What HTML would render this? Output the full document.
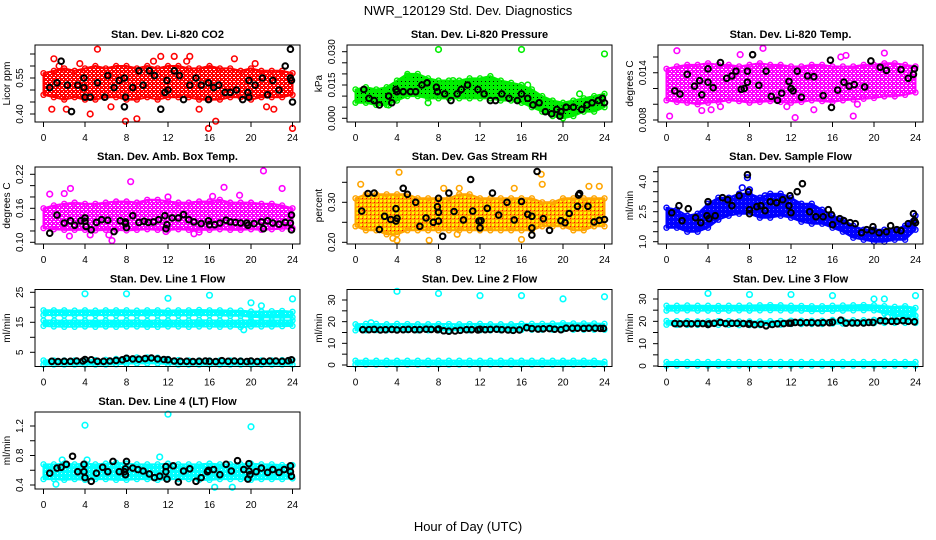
<!DOCTYPE html>
<html><head><meta charset="utf-8"><style>
body{margin:0;background:#fff}
svg{display:block;font-family:"Liberation Sans",Arial,sans-serif}
</style></head><body>
<svg id="c" width="936" height="540" viewBox="0 0 936 540">
<defs>
<pattern id="pat-red" width="4" height="4" patternUnits="userSpaceOnUse"><rect width="4" height="4" fill="#ff0000"/><rect x="1" y="1" width="2" height="1" fill="#fff"/><rect x="3" y="3" width="1" height="1" fill="#fff"/></pattern>
<pattern id="pat-green" width="4" height="4" patternUnits="userSpaceOnUse"><rect width="4" height="4" fill="#00ee00"/><rect x="1" y="1" width="1" height="1" fill="#000"/></pattern>
<pattern id="pat-mag" width="4" height="4" patternUnits="userSpaceOnUse"><rect width="4" height="4" fill="#ff00ff"/><rect x="1" y="1" width="2" height="1" fill="#fff"/><rect x="3" y="3" width="1" height="1" fill="#fff"/></pattern>
<pattern id="pat-rh" width="4" height="4" patternUnits="userSpaceOnUse"><rect width="4" height="4" fill="#ffa500"/><rect x="0" y="0" width="2" height="2" fill="#ffff00"/><rect x="2" y="2" width="1" height="1" fill="#ff0000"/></pattern>
<pattern id="pat-blue" width="4" height="4" patternUnits="userSpaceOnUse"><rect width="4" height="4" fill="#0000ff"/><rect x="1" y="1" width="1" height="1" fill="#6666ff"/></pattern>
<pattern id="pat-cyan" width="4" height="4" patternUnits="userSpaceOnUse"><rect width="4" height="4" fill="#00ffff"/><rect x="1" y="1" width="1" height="1" fill="#bbffff"/></pattern>
</defs>
<text x="468" y="15" text-anchor="middle" font-size="13">NWR_120129  Std. Dev. Diagnostics</text>
<text x="468" y="531" text-anchor="middle" font-size="13">Hour of Day (UTC)</text>
</svg>
<script>
const H=[0,1,2,3,4,5,6,7,8,9,10,11,12,13,14,15,16,17,18,19,20,21,22,23,24];
const xTicks=[0,4,8,12,16,20,24];
const xTickLabels=["0","4","8","12","16","20","24"];

// P1 CO2
const p1Lo=[0.48,0.47,0.46,0.47,0.46,0.46,0.47,0.47,0.46,0.46,0.47,0.46,0.47,0.47,0.47,0.46,0.46,0.46,0.47,0.47,0.46,0.47,0.47,0.47,0.48];
const p1Hi=[0.57,0.58,0.59,0.58,0.59,0.60,0.59,0.60,0.60,0.59,0.60,0.59,0.60,0.60,0.59,0.59,0.60,0.59,0.59,0.58,0.59,0.58,0.58,0.58,0.57];
const p1Ox=[0.8,1.0,2.2,5.2,9.0,10.6,12.6,14.1,15.0,15.9,16.6,18.4,20.4,22.2,24.0,4.5,7.9,6.5,3.5,11.3,21.5,13.8,1.5];
const p1Oy=[0.42,0.63,0.42,0.67,0.38,0.62,0.64,0.64,0.42,0.34,0.37,0.63,0.61,0.42,0.34,0.40,0.37,0.43,0.61,0.64,0.43,0.62,0.60];
const p1Bx=[0.6,1.3,1.7,2.3,2.7,3.3,3.9,3.9,4.0,4.5,5.2,5.9,6.2,6.8,7.3,7.8,7.9,7.8,8.6,9.2,9.6,10.2,10.7,11.3,11.7,11.9,12.0,12.6,13.1,13.5,14.1,14.7,15.2,15.9,15.9,16.4,16.9,17.5,18.0,18.6,19.2,19.7,19.8,19.8,20.4,21.1,21.6,22.1,22.7,23.3,23.8,23.8,23.9,24.0];
const p1By=[0.51,0.53,0.62,0.52,0.41,0.52,0.51,0.55,0.47,0.47,0.53,0.47,0.56,0.51,0.54,0.55,0.47,0.43,0.51,0.58,0.52,0.58,0.56,0.42,0.49,0.54,0.50,0.58,0.56,0.46,0.52,0.55,0.52,0.53,0.46,0.51,0.52,0.49,0.49,0.50,0.46,0.49,0.54,0.47,0.52,0.55,0.48,0.54,0.50,0.60,0.67,0.55,0.54,0.45];
// P2 Pressure
const p2Lo=[0.007,0.007,0.006,0.006,0.008,0.010,0.010,0.009,0.009,0.009,0.009,0.009,0.009,0.009,0.008,0.008,0.007,0.005,0.003,0.001,0.000,0.001,0.003,0.003,0.005];
const p2Hi=[0.013,0.014,0.013,0.014,0.017,0.020,0.020,0.018,0.017,0.017,0.017,0.018,0.018,0.019,0.017,0.016,0.015,0.013,0.010,0.008,0.007,0.008,0.009,0.010,0.011];
const p2Ox=[8.0,16.0,24.0,5.0,7.0,16.6,21.6,3.2,9.4];
const p2Oy=[0.031,0.031,0.029,0.019,0.007,0.015,0.011,0.006,0.017];
const p2Bx=[0.8,1.3,1.8,2.3,3.2,3.5,3.9,4.0,4.6,5.3,5.8,6.4,6.9,7.8,7.9,8.6,9.2,9.8,10.2,10.8,11.8,12.4,13.0,13.5,14.1,14.8,15.6,16.0,16.6,17.1,17.7,18.3,18.9,19.4,19.7,19.8,20.3,21.0,21.8,22.3,22.8,23.4,23.8,24.0];
const p2By=[0.013,0.009,0.008,0.006,0.010,0.007,0.013,0.012,0.012,0.012,0.012,0.015,0.016,0.014,0.012,0.011,0.008,0.011,0.013,0.015,0.013,0.011,0.008,0.008,0.011,0.009,0.008,0.011,0.009,0.006,0.007,0.003,0.002,0.004,0.001,0.003,0.005,0.005,0.004,0.006,0.007,0.008,0.009,0.007];
// P3 Temp
const p3Lo=[0.0105,0.0103,0.0102,0.0100,0.0102,0.0103,0.0105,0.0104,0.0102,0.0103,0.0104,0.0103,0.0102,0.0103,0.0105,0.0104,0.0103,0.0105,0.0106,0.0107,0.0108,0.0110,0.0110,0.0112,0.0115];
const p3Hi=[0.0145,0.0148,0.0150,0.0150,0.0152,0.0150,0.0150,0.0148,0.0150,0.0152,0.0150,0.0150,0.0148,0.0148,0.0150,0.0150,0.0148,0.0148,0.0148,0.0150,0.0150,0.0152,0.0152,0.0150,0.0148];
const p3Ox=[1.0,0.3,4.3,5.2,7.1,9.3,11.6,12.4,14.2,16.8,17.3,18.0,21.0,18.4,3.4];
const p3Oy=[0.0168,0.0085,0.0093,0.0097,0.0163,0.0171,0.0097,0.0083,0.0093,0.0160,0.0162,0.0085,0.0165,0.0100,0.0092];
const p3Bx=[0.8,1.3,2.0,2.7,3.2,3.4,4.0,4.0,4.5,5.2,5.8,6.3,6.7,7.2,7.5,7.8,7.8,8.3,8.9,9.6,10.1,10.7,11.1,11.8,12.0,12.2,12.6,13.0,13.6,14.2,15.1,15.8,15.9,16.5,17.1,17.6,18.1,19.1,19.7,20.6,21.2,22.6,23.3,23.8,23.9];
const p3By=[0.0117,0.0113,0.0138,0.0123,0.0130,0.0112,0.0145,0.0128,0.0121,0.0153,0.0133,0.0136,0.0142,0.0119,0.0120,0.0128,0.0142,0.0163,0.0124,0.0142,0.0110,0.0105,0.0114,0.0129,0.0120,0.0117,0.0142,0.0109,0.0136,0.0135,0.0111,0.0156,0.0096,0.0118,0.0128,0.0123,0.0125,0.0122,0.0155,0.0147,0.0143,0.0144,0.0133,0.0138,0.0145];
// P4 Amb box temp
const p4Lo=[0.125,0.123,0.122,0.122,0.122,0.121,0.122,0.122,0.121,0.122,0.123,0.122,0.122,0.123,0.122,0.122,0.122,0.123,0.122,0.122,0.123,0.122,0.123,0.124,0.125];
const p4Hi=[0.160,0.165,0.168,0.170,0.168,0.168,0.170,0.172,0.172,0.170,0.175,0.175,0.172,0.170,0.170,0.172,0.172,0.175,0.170,0.170,0.170,0.168,0.168,0.165,0.160];
const p4Ox=[0.6,2.0,2.6,2.5,4.5,6.6,8.4,11.8,14.5,16.3,17.4,18.9,21.2,23.0,6.3,15.0,12.0];
const p4Oy=[0.185,0.186,0.195,0.111,0.113,0.103,0.207,0.119,0.115,0.181,0.197,0.183,0.226,0.195,0.113,0.118,0.180];
const p4Bx=[0.6,1.3,2.0,2.6,3.0,3.6,4.0,4.0,4.1,4.6,5.1,5.6,6.2,6.8,7.4,7.9,7.9,8.0,8.6,9.2,9.7,10.1,10.6,11.1,11.7,11.9,11.8,12.4,13.0,13.5,14.0,14.5,15.2,15.9,16.0,16.5,17.0,17.6,18.0,18.5,19.0,19.6,19.7,20.3,21.0,21.2,21.6,22.1,22.7,23.3,23.8,23.9,23.9];
const p4By=[0.116,0.148,0.134,0.138,0.130,0.138,0.137,0.143,0.128,0.122,0.135,0.140,0.139,0.119,0.138,0.136,0.133,0.126,0.147,0.135,0.137,0.135,0.136,0.140,0.147,0.131,0.124,0.143,0.143,0.149,0.140,0.136,0.133,0.138,0.131,0.131,0.134,0.139,0.136,0.135,0.134,0.134,0.130,0.133,0.136,0.124,0.138,0.134,0.132,0.135,0.134,0.148,0.122];
// P5 RH
const p5Lo=[0.24,0.23,0.23,0.22,0.22,0.23,0.23,0.23,0.23,0.23,0.23,0.23,0.23,0.23,0.23,0.23,0.23,0.23,0.24,0.24,0.24,0.23,0.23,0.24,0.24];
const p5Hi=[0.31,0.32,0.32,0.32,0.32,0.32,0.31,0.31,0.31,0.31,0.32,0.32,0.31,0.31,0.31,0.31,0.31,0.31,0.30,0.30,0.31,0.31,0.31,0.31,0.31];
const p5Ox=[0.5,4.2,3.6,4.0,7.1,8.5,10.0,15.3,17.9,18.0,22.5,16.0,23.5,9.8];
const p5Oy=[0.345,0.375,0.21,0.205,0.205,0.335,0.335,0.335,0.37,0.345,0.34,0.207,0.34,0.22];
const p5Bx=[0.6,1.2,1.8,2.3,2.8,3.4,3.9,3.9,4.0,4.6,5.0,5.8,6.2,6.8,7.5,7.9,8.0,8.0,8.0,8.4,9.0,9.5,10.4,11.1,11.3,11.9,12.1,12.0,12.7,13.2,13.8,14.6,15.3,16.0,16.6,17.0,17.0,17.0,17.5,18.1,18.7,19.8,20.2,20.6,21.4,21.5,21.6,22.4,23.0,23.5,24.0];
const p5By=[0.278,0.322,0.323,0.232,0.265,0.257,0.284,0.253,0.26,0.335,0.32,0.30,0.24,0.261,0.25,0.289,0.275,0.253,0.31,0.215,0.323,0.277,0.256,0.357,0.278,0.253,0.254,0.236,0.285,0.323,0.268,0.30,0.256,0.302,0.27,0.265,0.236,0.218,0.377,0.259,0.23,0.254,0.249,0.272,0.29,0.318,0.322,0.29,0.251,0.255,0.257];
// P6 Sample flow
const p6Lo=[1.7,1.7,1.5,1.5,1.7,2.1,2.3,2.4,2.4,2.2,2.2,2.3,2.2,2.0,1.9,1.9,1.7,1.5,1.2,1.1,1.0,1.0,1.1,1.1,1.6];
const p6Hi=[2.7,2.6,2.3,2.4,2.9,3.2,3.2,3.4,3.4,3.2,3.4,3.4,3.2,2.9,2.9,2.6,2.3,2.1,1.8,1.6,1.6,1.6,1.6,1.8,2.3];
const p6Ox=[7.8,7.3,8.0,9.5];
const p6Oy=[4.2,3.7,3.6,3.3];
const p6Bx=[0.5,1.2,1.5,2.1,2.8,3.3,3.9,4.0,4.1,4.7,5.4,5.9,6.3,7.0,7.8,7.9,8.0,8.0,8.7,9.1,9.5,10.0,10.6,11.2,11.8,11.9,12.0,12.6,13.1,13.8,14.4,15.1,15.6,15.9,16.0,16.7,17.1,17.7,18.2,18.8,19.3,19.8,19.9,20.5,21.2,21.6,22.2,22.6,23.3,23.8,23.9,24.0];
const p6By=[2.45,2.8,2.05,2.65,2.2,1.95,2.3,3.0,2.15,2.3,3.2,3.1,2.8,3.3,4.35,3.5,2.6,2.4,2.75,2.8,2.55,3.0,2.95,3.1,2.8,3.3,2.45,3.5,3.9,2.5,2.25,2.25,2.6,2.35,1.85,2.15,2.05,1.95,1.9,1.45,1.6,1.55,1.75,1.45,1.5,1.8,1.6,1.55,1.9,2.4,2.05,1.95];
// P7 Line 1
const p7ALo=[17.4,17.4,17.3,17.4,17.3,17.4,17.4,17.3,17.4,17.3,17.4,17.3,17.4,17.3,17.3,17.4,17.4,17.3,17.2,17.2,16.8,16.7,16.6,16.6,16.7];
const p7AHi=[19.0,19.0,19.0,18.9,19.0,18.9,19.0,19.0,19.0,18.9,19.0,19.0,18.9,19.0,19.0,19.1,19.0,19.0,18.9,18.9,18.6,18.6,18.7,18.8,18.5];
const p7BLo=[13.8,13.6,13.5,13.5,13.6,13.5,13.6,13.5,13.6,13.6,13.5,13.5,13.6,13.6,13.5,13.6,13.6,13.5,13.6,13.4,13.6,13.6,13.6,13.7,13.8];
const p7BHi=[15.6,15.6,15.5,15.6,15.6,15.5,15.6,15.5,15.6,15.6,15.5,15.6,15.6,15.5,15.6,15.7,15.6,15.6,15.5,15.6,15.6,15.5,15.6,15.6,15.6];
const p7CLo=[0.9,0.9,0.9,0.9,0.9,0.9,0.9,1.0,1.2,1.3,1.3,1.3,1.1,0.9,0.9,0.9,0.9,0.9,0.9,0.9,0.9,0.9,0.9,0.9,0.9];
const p7CHi=[2.3,2.3,2.3,2.3,2.4,2.4,2.5,2.8,3.2,3.3,3.3,3.2,2.8,2.4,2.3,2.3,2.3,2.3,2.3,2.3,2.3,2.3,2.3,2.4,2.5];
const p7Ox=[4,8,12,16,20,21,24,19.3];
const p7Oy=[24.5,24.5,23,24,21.5,20.5,22.8,12.5];
const p7Bx=[0.8,1.4,2,2.6,3.2,3.8,4.0,4.6,5.2,5.8,6.4,7.0,7.6,8.0,8.6,9.2,9.8,10.4,11.0,11.6,12.0,12.6,13.2,13.8,14.4,15.0,15.6,16.0,16.6,17.2,17.8,18.4,19.0,19.6,20.0,20.6,21.2,21.8,22.4,23.0,23.6,23.9];
const p7By=[2.0,1.9,2.0,2.0,2.1,2.1,2.6,2.5,2.0,2.0,2.1,2.3,2.5,3.0,2.8,2.7,2.9,3.1,2.8,2.6,2.5,2.1,2.0,2.0,1.9,2.0,2.1,2.0,1.9,2.2,2.0,2.1,2.0,1.9,2.1,1.9,2.0,2.1,2.1,2.0,2.2,2.5];
// P8 Line 2
const p8ALo=[16.0,16.0,16.1,16.0,16.0,16.1,16.0,16.0,16.0,16.0,16.1,16.0,16.0,16.0,16.0,16.0,16.2,16.3,16.3,16.3,16.4,16.3,16.3,16.3,16.3];
const p8AHi=[18.8,19.0,19.0,18.8,19.0,18.9,18.8,18.8,18.9,18.9,18.8,18.9,19.0,18.8,18.8,18.8,19.0,19.0,19.0,19.1,19.3,19.2,19.2,19.2,19.0];
const p8BLo=[0.2,0.2,0.2,0.2,0.2,0.2,0.2,0.2,0.2,0.2,0.2,0.2,0.2,0.2,0.2,0.2,0.2,0.2,0.2,0.2,0.2,0.2,0.2,0.2,0.2];
const p8BHi=[2.0,2.0,2.0,2.0,2.0,2.0,2.0,2.0,2.0,2.0,2.0,2.0,2.0,2.0,2.0,2.0,2.0,2.0,2.0,2.0,2.0,2.0,2.0,2.0,1.5];
const p8Ox=[4,8,12,16,20,24,1.5];
const p8Oy=[34,33,32,32,30.5,31.5,19.5];
const p8Bx=[0.7,1.3,1.8,2.4,2.9,3.5,4.0,4.6,5.1,5.7,6.2,6.8,7.3,7.9,8.0,8.5,9.0,9.6,10.1,10.7,11.2,11.8,12.0,12.5,13.0,13.6,14.1,14.7,15.2,15.8,16.5,17.0,17.6,18.1,18.7,19.2,19.8,20.3,20.9,21.4,22.0,22.5,23.1,23.6,23.9];
const p8By=[16.3,16.3,16.4,16.2,16.3,16.4,16.2,16.3,16.4,16.3,16.3,16.5,16.4,16.3,16.6,15.8,15.6,15.7,16.0,16.3,16.3,16.2,16.5,16.3,16.4,16.5,16.3,16.2,16.0,16.2,17.2,16.8,16.6,16.7,16.8,16.5,16.3,17.0,17.0,17.0,16.9,17.0,17.0,16.9,16.9];
// P9 Line 3
const p9ALo=[24.8,24.8,24.9,24.8,24.8,24.7,24.8,24.9,24.8,24.9,25.0,24.9,24.8,24.8,24.6,24.6,24.7,24.8,24.9,25.0,24.9,23.5,22.5,22.0,22.5];
const p9AHi=[27.0,27.0,27.1,27.0,27.0,26.9,27.0,27.0,27.1,27.2,27.3,27.2,27.0,26.9,26.8,26.8,27.0,27.1,27.2,27.3,27.2,26.8,26.5,26.8,26.0];
const p9BLo=[18.5,18.4,18.4,18.4,18.3,18.4,18.4,18.3,18.3,18.3,18.4,18.5,18.8,18.8,18.8,18.8,19.0,19.0,19.0,19.0,19.2,19.3,19.3,19.3,19.3];
const p9BHi=[20.2,20.1,20.1,20.0,20.0,20.1,20.1,20.0,20.0,20.0,20.1,20.2,20.3,20.3,20.3,20.3,20.6,20.5,20.5,20.5,20.7,20.8,20.8,20.8,20.8];
const p9CLo=[0.2,0.2,0.2,0.2,0.2,0.2,0.2,0.2,0.2,0.2,0.2,0.2,0.2,0.2,0.2,0.2,0.2,0.2,0.2,0.2,0.2,0.2,0.2,0.2,0.2];
const p9CHi=[1.8,1.8,1.8,1.8,1.8,1.8,1.8,1.8,1.8,1.8,1.8,1.8,1.8,1.8,1.8,1.8,1.8,1.8,1.8,1.8,1.8,1.8,1.8,1.8,1.8];
const p9Ox=[4,8,12,16,20,21,24,21.3,23.5,22.8];
const p9Oy=[32.5,32,32,31.5,30,30,31.5,22,23,22.5];
const p9Bx=[0.8,1.3,1.9,2.4,3.0,3.5,4.0,4.1,4.6,5.2,5.7,6.3,6.8,7.4,7.9,8.0,8.5,9.1,9.6,10.2,10.7,11.3,11.8,12.0,12.4,12.9,13.5,14.0,14.6,15.1,15.7,16.0,16.8,17.3,17.9,18.4,19.0,19.5,19.9,20.6,21.1,21.7,22.2,22.8,23.3,23.9];
const p9By=[19.0,18.9,19.0,18.9,19.0,19.0,18.6,18.9,19.1,19.5,19.0,19.1,19.1,19.0,18.7,19.0,18.5,18.7,18.0,18.6,18.9,19.0,19.2,19.2,19.5,19.4,19.4,19.4,19.3,19.4,19.4,19.6,20.5,19.2,19.3,19.3,19.3,19.5,19.5,20.3,20.1,20.0,20.0,20.3,20.0,19.8];
// P10 Line 4
const p10Lo=[0.48,0.48,0.47,0.48,0.47,0.48,0.48,0.47,0.47,0.48,0.48,0.47,0.48,0.48,0.48,0.47,0.47,0.48,0.48,0.48,0.47,0.48,0.48,0.48,0.49];
const p10Hi=[0.68,0.68,0.69,0.68,0.69,0.68,0.69,0.70,0.69,0.68,0.68,0.68,0.69,0.68,0.68,0.68,0.69,0.68,0.68,0.68,0.69,0.68,0.68,0.67,0.67];
const p10Ox=[4,12,20,1.2,16.5,18.2,11.2,1.8,4.2];
const p10Oy=[1.21,1.36,1.19,0.41,0.37,0.37,0.78,0.74,0.74];
const p10Bx=[0.6,1.3,1.7,2.2,2.8,3.3,3.9,3.9,4.0,4.6,5.1,5.7,6.2,6.7,7.3,7.8,7.9,7.9,8.0,8.6,9.1,9.6,10.2,10.7,11.2,11.8,11.8,11.9,12.5,13.0,13.5,14.1,14.7,15.2,15.8,15.9,16.4,17.0,17.6,18.1,18.7,19.3,19.8,19.8,19.7,19.9,20.5,21.0,21.6,22.1,22.7,23.2,23.8,23.8,23.9];
const p10By=[0.56,0.63,0.64,0.68,0.79,0.58,0.58,0.68,0.50,0.45,0.56,0.64,0.58,0.72,0.58,0.58,0.54,0.62,0.72,0.63,0.61,0.59,0.55,0.50,0.52,0.65,0.58,0.48,0.66,0.44,0.59,0.62,0.45,0.50,0.58,0.60,0.61,0.54,0.68,0.59,0.73,0.61,0.59,0.69,0.48,0.54,0.58,0.63,0.57,0.61,0.57,0.61,0.66,0.58,0.52];

const NS="http://www.w3.org/2000/svg";
const svg=document.getElementById('c');
function mk(tag,attrs,parent){const e=document.createElementNS(NS,tag);for(const k in attrs)e.setAttribute(k,attrs[k]);(parent||svg).appendChild(e);return e;}

const colL=[35,347,658], rowT=[45,167,289.5,412], BW=265, BH=77;
const panels=[
 {n:'co2',t:'Stan. Dev. Li-820 CO2',c:0,r:0,v0:0.40,p0:114,k:240,yl:'Licor ppm',tk:[0.40,0.45,0.50,0.55,0.60,0.65],tl:["0.40","","","0.55","",""],col:'#ff0000',pat:'pat-red',bands:[[p1Lo,p1Hi]],ox:p1Ox,oy:p1Oy,bx:p1Bx,by:p1By},
 {n:'pressure',t:'Stan. Dev. Li-820 Pressure',c:1,r:0,v0:0,p0:118.3,k:2220,yl:'kPa',tk:[0,0.005,0.010,0.015,0.020,0.025,0.030],tl:["0.000","","","0.015","","","0.030"],col:'#00ee00',pat:'pat-green',bands:[[p2Lo,p2Hi]],ox:p2Ox,oy:p2Oy,bx:p2Bx,by:p2By},
 {n:'temp',t:'Stan. Dev. Li-820 Temp.',c:2,r:0,v0:0.008,p0:120,k:7875,yl:'degrees C',tk:[0.008,0.010,0.012,0.014,0.016],tl:["0.008","","","0.014",""],col:'#ff00ff',pat:'pat-mag',bands:[[p3Lo,p3Hi]],ox:p3Ox,oy:p3Oy,bx:p3Bx,by:p3By},
 {n:'amb-temp',t:'Stan. Dev. Amb. Box Temp.',c:0,r:1,v0:0.10,p0:242.3,k:566.7,yl:'degrees C',tk:[0.10,0.12,0.14,0.16,0.18,0.20,0.22],tl:["0.10","","","0.16","","","0.22"],col:'#ff00ff',pat:'pat-mag',bands:[[p4Lo,p4Hi]],ox:p4Ox,oy:p4Oy,bx:p4Bx,by:p4By},
 {n:'rh',t:'Stan. Dev. Gas Stream RH',c:1,r:1,v0:0.20,p0:242.3,k:400,yl:'percent',tk:[0.20,0.25,0.30,0.35],tl:["0.20","","0.30",""],col:'#ffa500',pat:'pat-rh',bands:[[p5Lo,p5Hi]],ox:p5Ox,oy:p5Oy,bx:p5Bx,by:p5By},
 {n:'sample-flow',t:'Stan. Dev. Sample Flow',c:2,r:1,v0:1.0,p0:241.7,k:20,yl:'ml/min',tk:[1.0,1.5,2.0,2.5,3.0,3.5,4.0,4.5],tl:["1.0","","","2.5","","","4.0",""],col:'#0000ff',pat:'pat-blue',bands:[[p6Lo,p6Hi]],ox:p6Ox,oy:p6Oy,bx:p6Bx,by:p6By},
 {n:'line1',t:'Stan. Dev. Line 1 Flow',c:0,r:2,v0:5,p0:352.3,k:3,yl:'ml/min',tk:[5,10,15,20,25],tl:["5","","15","","25"],col:'#00ffff',pat:'pat-cyan',bands:[[p7ALo,p7AHi],[p7BLo,p7BHi],[p7CLo,p7CHi]],ox:p7Ox,oy:p7Oy,bx:p7Bx,by:p7By},
 {n:'line2',t:'Stan. Dev. Line 2 Flow',c:1,r:2,v0:0,p0:365,k:2.167,yl:'ml/min',tk:[0,5,10,15,20,25,30],tl:["0","","10","","20","","30"],col:'#00ffff',pat:'pat-cyan',bands:[[p8ALo,p8AHi],[p8BLo,p8BHi]],ox:p8Ox,oy:p8Oy,bx:p8Bx,by:p8By},
 {n:'line3',t:'Stan. Dev. Line 3 Flow',c:2,r:2,v0:0,p0:366,k:2.233,yl:'ml/min',tk:[0,5,10,15,20,25,30],tl:["0","","10","","20","","30"],col:'#00ffff',pat:'pat-cyan',bands:[[p9ALo,p9AHi],[p9BLo,p9BHi],[p9CLo,p9CHi]],ox:p9Ox,oy:p9Oy,bx:p9Bx,by:p9By},
 {n:'line4',t:'Stan. Dev. Line 4 (LT) Flow',c:0,r:3,v0:0.4,p0:485,k:73.75,yl:'ml/min',tk:[0.4,0.6,0.8,1.0,1.2],tl:["0.4","","0.8","","1.2"],col:'#00ffff',pat:'pat-cyan',bands:[[p10Lo,p10Hi]],ox:p10Ox,oy:p10Oy,bx:p10Bx,by:p10By}
];

panels.forEach(p=>{
 const L=colL[p.c], T=rowT[p.r], B=T+BH, R=L+BW;
 const X=h=>L+8.5+h*249/24;
 const Y=v=>p.p0-(v-p.v0)*p.k;
 const g=mk('g',{});
 
 
 const tt=mk('text',{x:L+BW/2,y:T-7,'text-anchor':'middle','font-size':'11','font-weight':'bold'},g);
 tt.textContent=p.t;
 
 
 p.bands.forEach((bd,bi)=>{
  const lo=bd[0],hi=bd[1];
  let pts=H.map((h,i)=>X(h)+','+Y(hi[i]));
  pts=pts.concat(H.map((h,i)=>X(h)+','+Y(lo[i])).reverse());
  const poly=mk('polygon',{points:pts.join(' '),fill:'url(#'+p.pat+')',stroke:p.col,'stroke-width':'2','stroke-linejoin':'round'},g);
  
  
  H.forEach((h,i)=>{
   [lo[i],hi[i]].forEach(v=>{
    const c=mk('circle',{cx:X(h),cy:Y(v),r:2.5,fill:'none',stroke:p.col,'stroke-width':'1.4'},g);
    
    
   });
  });
 });
 p.ox.forEach((h,i)=>{
  const c=mk('circle',{cx:X(h),cy:Y(p.oy[i]),r:2.8,fill:'none',stroke:p.col,'stroke-width':'1.6'},g);
  
  
 });
 p.bx.forEach((h,i)=>{
  const c=mk('circle',{cx:X(h),cy:Y(p.by[i]),r:2.8,fill:'none',stroke:'#000','stroke-width':'2'},g);
  
  
 });
 const box=mk('rect',{x:L,y:T,width:BW,height:BH,fill:'none',stroke:'#000','stroke-width':'1'},g);
 
 
 xTicks.forEach((h,i)=>{
  mk('line',{x1:X(h),x2:X(h),y1:B,y2:B+5,stroke:'#000'},g);
  const t=mk('text',{x:X(h),y:B+19,'text-anchor':'middle','font-size':'10'},g);
  t.textContent=xTickLabels[i];
  
  
 });
 p.tk.forEach((v,i)=>{
  const y=Y(v);
  mk('line',{x1:L-5,x2:L,y1:y,y2:y,stroke:'#000'},g);
  if(p.tl[i]){
   const t=mk('text',{x:L-12,y:y,'text-anchor':'middle','font-size':'10',transform:'rotate(-90 '+(L-12)+' '+y+')'},g);
   t.textContent=p.tl[i];
   
   
  }
 });
 const yc=T+BH/2;
 const yt=mk('text',{x:L-25,y:yc,'text-anchor':'middle','font-size':'10',transform:'rotate(-90 '+(L-25)+' '+yc+')'},g);
 yt.textContent=p.yl;
 
 
});
</script>
</body></html>
